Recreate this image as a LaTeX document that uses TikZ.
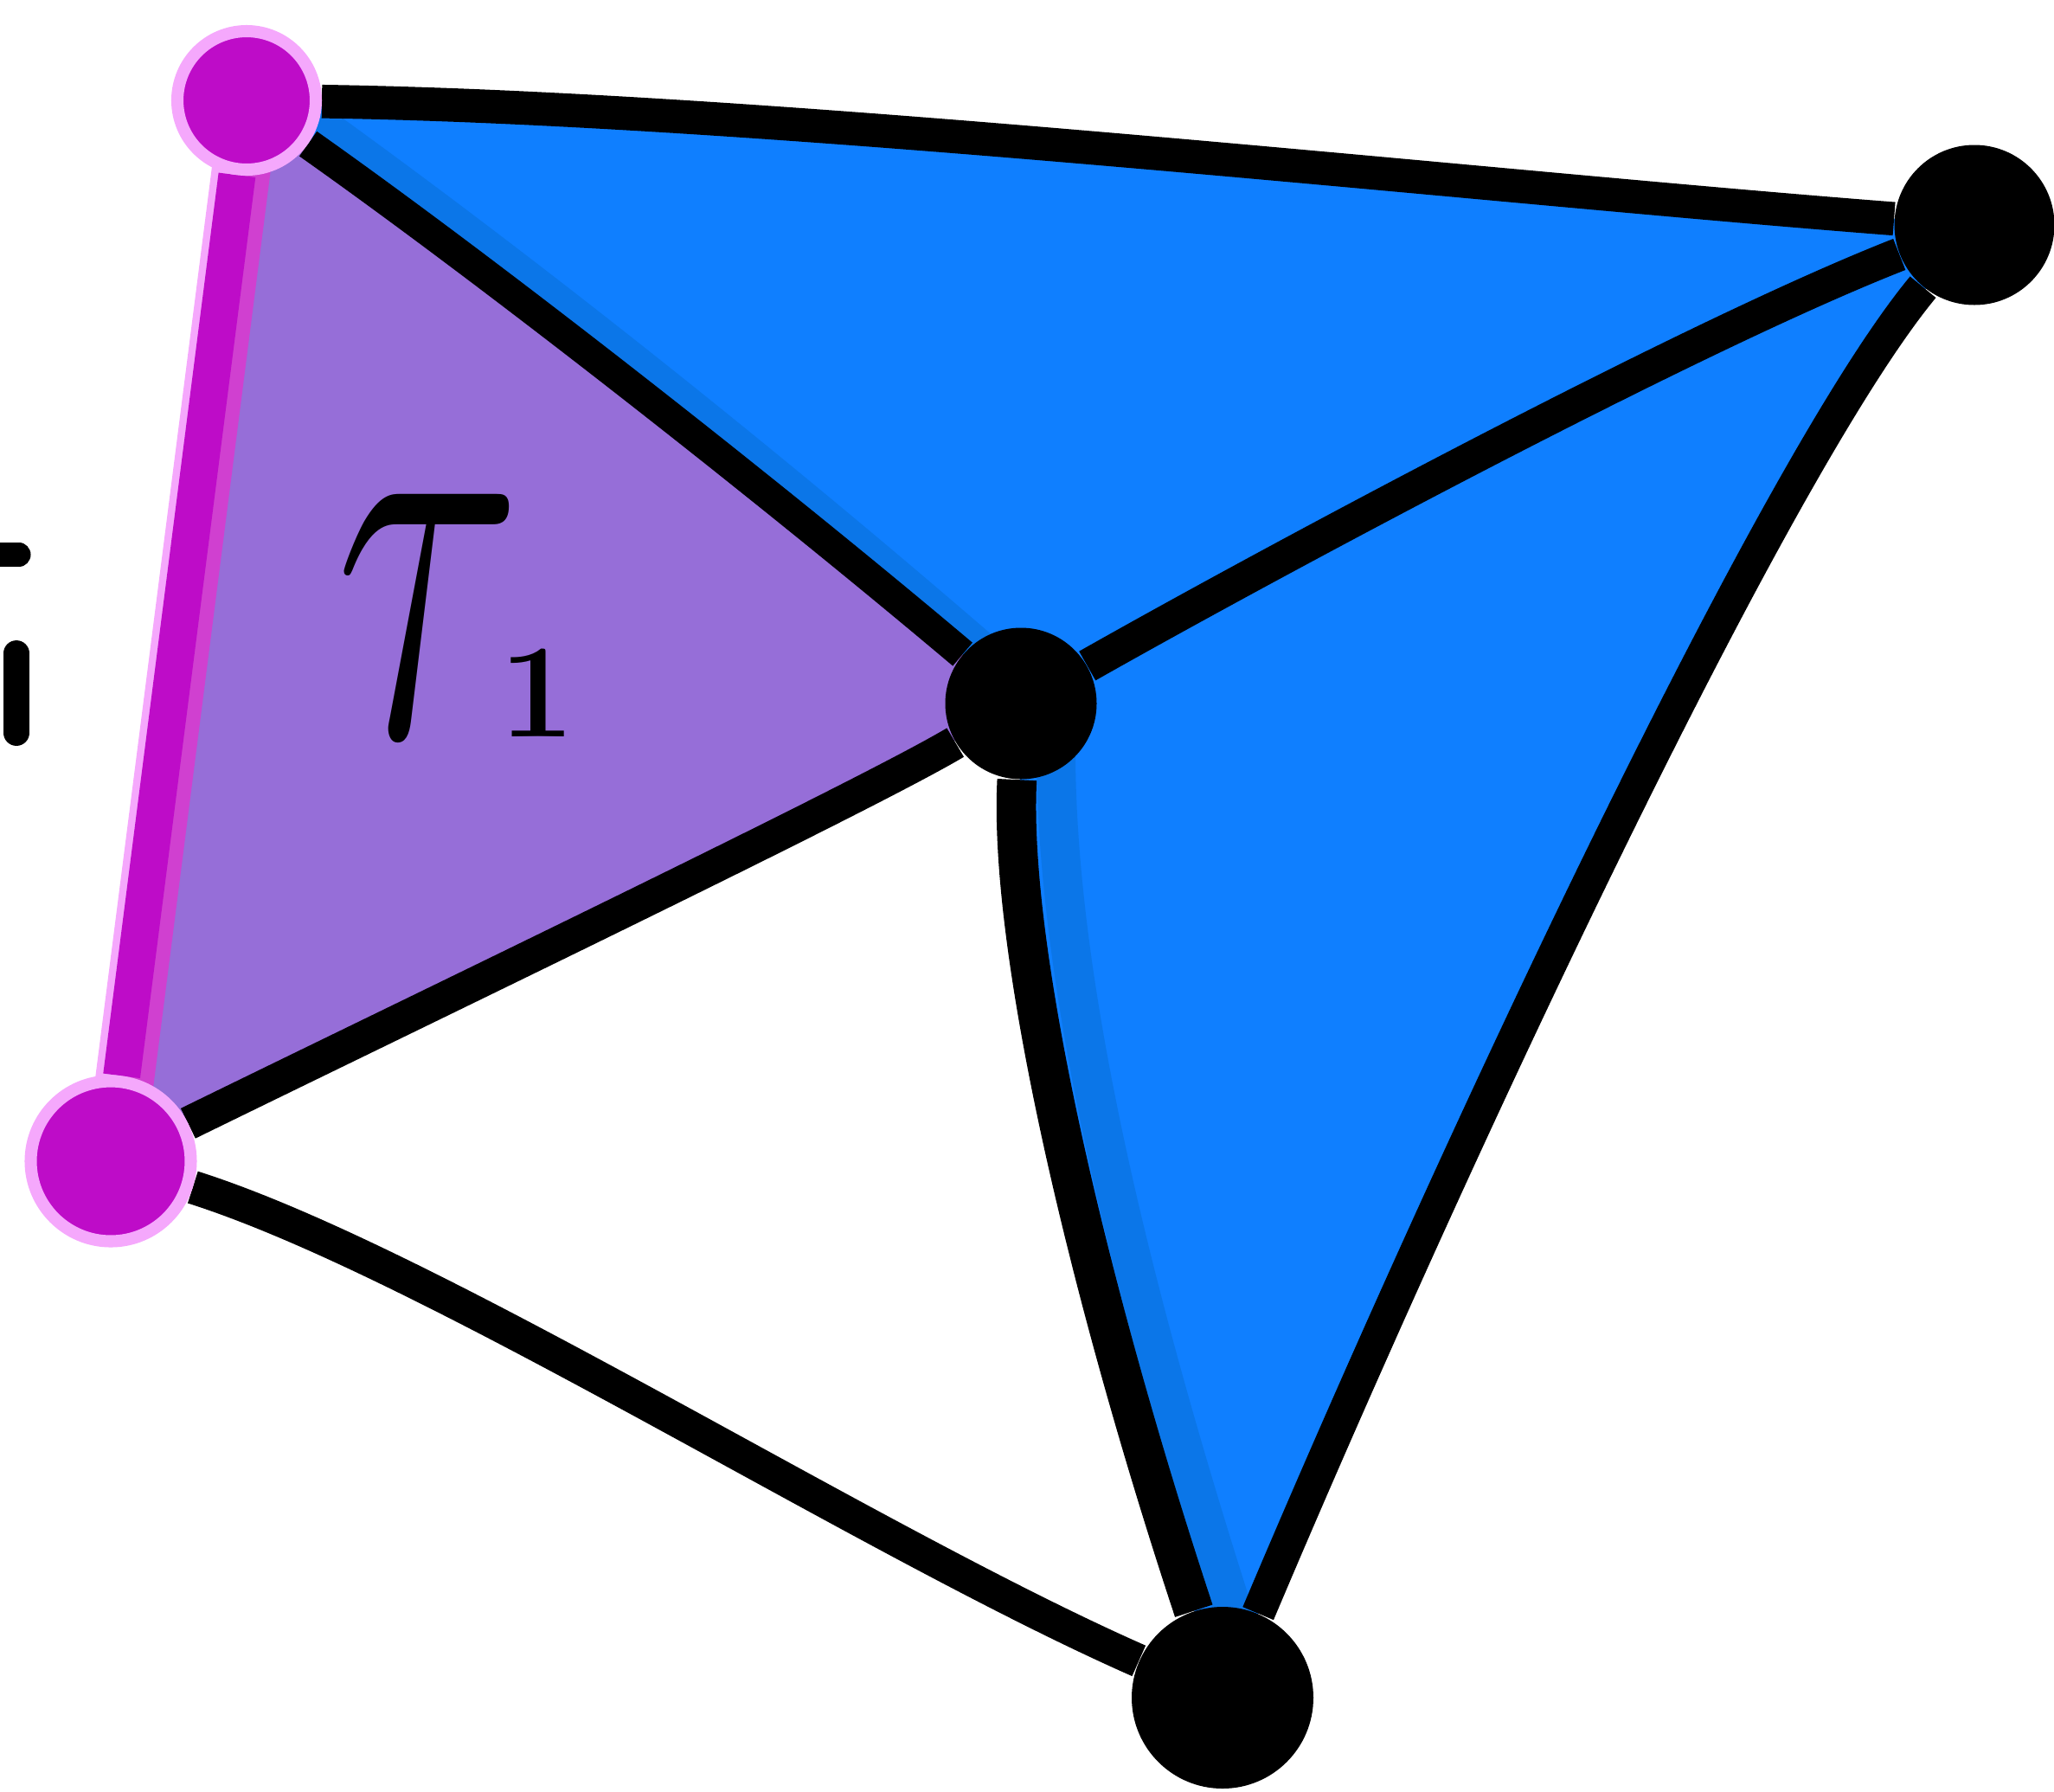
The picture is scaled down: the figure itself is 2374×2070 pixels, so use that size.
\documentclass[tikz,border=0pt]{standalone}
\usepackage{fix-cm}
\definecolor{azul}{HTML}{0F7FFF}
\definecolor{azuloscuro}{HTML}{0B76E8}
\definecolor{lila}{HTML}{966ED8}
\definecolor{fucsia}{HTML}{BE0CC8}
\definecolor{fucsiaclaro}{HTML}{D040D0}
\definecolor{rosa}{HTML}{F5A8FC}
\pgfdeclarelayer{background}
\pgfdeclarelayer{foreground}
\pgfsetlayers{background,main,foreground}

\begin{document}
\begin{tikzpicture}
  [x=0.1mm, y=-0.1mm,
   vertex/.style={circle, fill=black, inner sep=0pt, minimum size=17.5mm},
   hvertex/.style={circle, fill=fucsia, draw=rosa, line width=4pt, inner sep=0pt, minimum size=16mm},
   edge/.style={line width=11pt, draw=black},
   hedge/.style={line width=4.3mm, draw=fucsia},
   band/.style={line width=3mm, draw=azuloscuro}]

  \useasboundingbox (0,0) rectangle (2374,2070);

  % Vértices
  \begin{pgfonlayer}{foreground}
    \node[hvertex] (a) at (285,116) {};
    \node[hvertex, minimum size=18.5mm] (b) at (128,1342) {};
    \node[vertex] (c) at (1180,813) {};
    \node[vertex, minimum size=18.5mm] (d) at (2282,260) {};
    \node[vertex, minimum size=21mm] (e) at (1413,1962) {};
  \end{pgfonlayer}

  % Caras coloreadas
  \begin{pgfonlayer}{background}
    \fill[lila] (a.center) .. controls (560,310) and (880,560) .. (c.center)
      .. controls (1000,920) and (500,1160) .. (b.center) -- cycle;
    \fill[azul] (a.center) .. controls (900,125) and (1700,215) .. (d.center)
      .. controls (1950,390) and (1450,660) .. (c.center)
      .. controls (880,560) and (560,310) .. (a.center) -- cycle;
    \fill[azul] (c.center) .. controls (1450,660) and (1950,390) .. (d.center)
      .. controls (2050,540) and (1680,1330) .. (e.center)
      .. controls (1260,1500) and (1165,1100) .. (c.center) -- cycle;
    \draw[band] ([shift={(20,-26)}]a.center) .. controls (580,284) and (898,536) .. ([shift={(14,-18)}]c.center);
    \draw[band, line width=4.5mm] ([shift={(42,-8)}]c.center) .. controls (1207,1092) and (1302,1492) .. ([shift={(42,-8)}]e.center);
  \end{pgfonlayer}

  % Arista resaltada
  \draw[line width=5mm, rosa] ([xshift=-0.5mm]a.center) -- ([xshift=-0.5mm]b.center);
  \draw[line width=4mm, fucsiaclaro] ([xshift=1.8mm]a.center) -- ([xshift=1.8mm]b.center);
  \draw[hedge] (a) -- (b);

  % Aristas
  \draw[edge] (a) .. controls (900,125) and (1700,215) .. (d);
  \draw[edge, line width=10pt] (a) .. controls (560,310) and (880,560) .. (c);
  \draw[edge] (c) .. controls (1450,660) and (1950,390) .. (d);
  \draw[edge] (c) .. controls (1000,920) and (500,1160) .. (b);
  \draw[edge] (b) .. controls (500,1460) and (1000,1780) .. (e);
  \draw[edge, line width=13pt] (c) .. controls (1165,1100) and (1260,1500) .. (e);
  \draw[edge] (d) .. controls (2050,540) and (1680,1330) .. (e);

  % Etiqueta
  \node[font=\fontsize{185}{185}\selectfont, inner sep=0pt] (tau) at (526,712)
    {\scalebox{0.62}[1]{$\tau$}\kern-0.04em{\fontsize{44}{44}\selectfont\bfseries 1}};

  % Trazos cortados en el borde
  \draw[line width=7.7pt, line cap=round] (-20,641) -- (22,641);
  \draw[line width=8.5pt, line cap=round] (19,755) -- (19,847);
\end{tikzpicture}
\end{document}
